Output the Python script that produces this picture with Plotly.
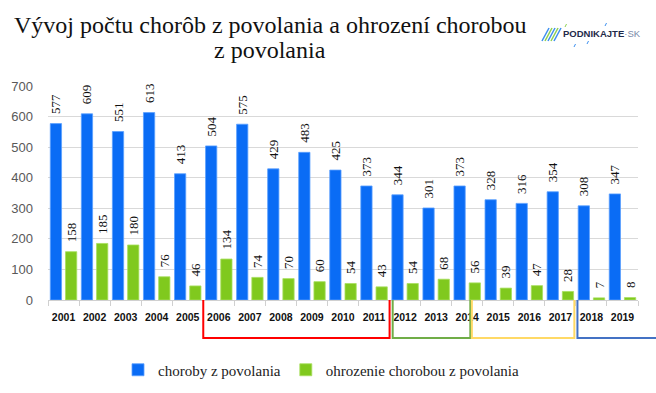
import plotly.graph_objects as go

years = ["2001", "2002", "2003", "2004", "2005", "2006", "2007", "2008", "2009", "2010",
         "2011", "2012", "2013", "2014", "2015", "2016", "2017", "2018", "2019"]
choroby = [577, 609, 551, 613, 413, 504, 575, 429, 483, 425, 373, 344, 301, 373, 328, 316, 354, 308, 347]
ohrozenie = [158, 185, 180, 76, 46, 134, 74, 70, 60, 54, 43, 54, 68, 56, 39, 47, 28, 7, 8]
series_names = ["choroby z povolania", "ohrozenie chorobou z povolania"]
title_line1 = "Vývoj počtu chorôb z povolania a ohrození chorobou"
title_line2 = "z povolania"

W, H = 656, 393
ML, MR, MT, MB = 48, 18, 86, 93
PW, PH = W - ML - MR, H - MT - MB


def px(x):
    return (x - ML) / PW


def py(y):
    return (H - MB - y) / PH


SERIF = "Liberation Serif"
SANS = "Liberation Sans"

fig = go.Figure()
fig.add_trace(go.Bar(
    x=years, y=choroby, name=series_names[0],
    marker=dict(color="#0a6cf5", line=dict(color="#5aa0ff", width=0.8)),
    text=choroby, texttemplate="\u00a0\u00a0%{text}", textposition="outside",
    textangle=-90, constraintext="none", cliponaxis=False,
    textfont=dict(family=SERIF, size=13, color="#111111"),
))
fig.add_trace(go.Bar(
    x=years, y=ohrozenie, name=series_names[1],
    marker=dict(color="#80c91e", line=dict(color="#a8e060", width=0.8)),
    text=ohrozenie, texttemplate="\u00a0\u00a0%{text}", textposition="outside",
    textangle=-90, constraintext="none", cliponaxis=False,
    textfont=dict(family=SERIF, size=13, color="#111111"),
))

n = len(years)


def bx(idx):
    # category boundary index -> paper x
    return (idx + 0.5) / n


brackets = [
    (4.5, 10.5, "#ff0000"),
    (10.6, 13.1, "#70ad47"),
    (13.15, 16.45, "#ffd966"),
    (16.55, 20.5, "#4472c4"),
]
shapes = []
yb = py(338)
for a, b, c in brackets:
    x0, x1 = bx(a), bx(b)
    pts = [(x0, 0), (x0, yb), (x1, yb), (x1, 0)]
    path = "M " + " L ".join(f"{x},{y}" for x, y in pts)
    shapes.append(dict(type="path", xref="paper", yref="paper", path=path,
                       line=dict(color=c, width=2)))

# logo icon stripes
for i, c in enumerate(["#3c8ff0", "#8fd14f", "#3c8ff0", "#8fd14f", "#3c8ff0"]):
    x0 = 542 + i * 3
    shapes.append(dict(type="line", xref="paper", yref="paper",
                       x0=px(x0), y0=py(41), x1=px(x0 + 7), y1=py(28),
                       line=dict(color=c, width=1.5)))
# small decorative specks around the logo
for (sx, sy, c) in [(565, 25, "#8fd14f"), (605, 24, "#3c8ff0"), (574, 45, "#3c8ff0"), (587, 42, "#3c8ff0")]:
    shapes.append(dict(type="line", xref="paper", yref="paper",
                       x0=px(sx), y0=py(sy + 2), x1=px(sx + 1.5), y1=py(sy - 1),
                       line=dict(color=c, width=1)))

annotations = [
    dict(text=title_line1, x=px(270), y=py(25), xref="paper", yref="paper",
         showarrow=False, xanchor="center", yanchor="middle",
         font=dict(family=SERIF, size=24, color="#111111")),
    dict(text=title_line2, x=px(270), y=py(50), xref="paper", yref="paper",
         showarrow=False, xanchor="center", yanchor="middle",
         font=dict(family=SERIF, size=24, color="#111111")),
    dict(text="<b>PODNIKAJTE</b><span style='color:#7a8aa8'>·SK</span>",
         x=px(561), y=py(34), xref="paper", yref="paper",
         showarrow=False, xanchor="left", yanchor="middle",
         font=dict(family=SANS, size=9.5, color="#1f2b4a")),
]

fig.update_layout(
    width=W, height=H,
    margin=dict(l=ML, r=MR, t=MT, b=MB, pad=0, autoexpand=False),
    paper_bgcolor="white", plot_bgcolor="white",
    barmode="group", bargap=0.02, bargroupgap=0.26,
    showlegend=True,
    legend=dict(orientation="h", x=px(118), y=py(370), xanchor="left", yanchor="middle",
                font=dict(family=SERIF, size=15, color="#222222"),
                bgcolor="rgba(0,0,0,0)",
                itemwidth=30, traceorder="normal"),
    shapes=shapes,
    annotations=annotations,
)
fig.update_yaxes(range=[0, 700], dtick=100, showgrid=True, gridcolor="#d9d9d9", gridwidth=1,
                 zeroline=False, showline=False, ticks="", ticklabelstandoff=14,
                 tickfont=dict(family=SANS, size=13, color="#595959"))
fig.update_xaxes(type="category", showline=True, linecolor="#d0d0d0", linewidth=1,
                 ticks="outside", tickson="boundaries", ticklen=5, tickcolor="#d0d0d0",
                 ticklabelstandoff=7, tickangle=0,
                 tickfont=dict(family=SANS, size=10.5, color="#111111", weight="bold"))

fig.write_html("out.html", config={"displayModeBar": False},
               post_script="document.body.style.margin='0';")
